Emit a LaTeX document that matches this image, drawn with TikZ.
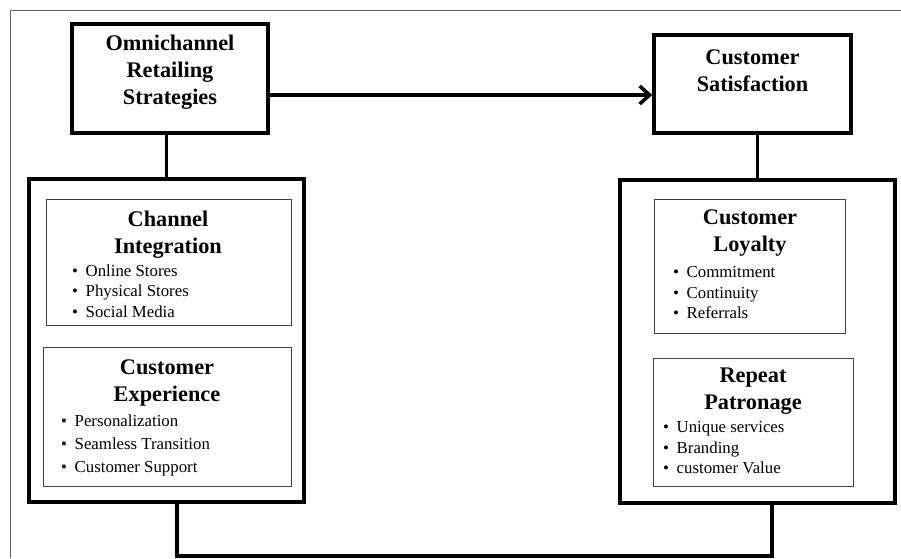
\documentclass[tikz,border=0pt]{standalone}
\usepackage{fontspec}
\setmainfont{Liberation Serif}
\usetikzlibrary{arrows.meta}

\newcommand{\headfont}{\fontsize{22.3}{27}\selectfont\bfseries}
\newcommand{\bitem}[1]{\makebox[13.5pt][l]{\textbullet}#1}

\tikzset{
    mainbox/.style={draw, line width=3.5pt, inner sep=0pt},
    groupbox/.style={draw, line width=4pt, inner sep=0pt},
    itembox/.style={draw=black!75, line width=1pt, inner sep=0pt},
    heading/.style={align=center, font=\headfont, inner sep=0pt},
    itemlist/.style={align=left, anchor=west, inner sep=0pt, font=\fontsize{16.8}{#1}\selectfont},
    itemlist/.default=20.5,
    link/.style={line width=3.5pt},
    frameline/.style={draw=black!60, line width=1pt}
}

\begin{document}
\begin{tikzpicture}[x=1pt,y=-1pt]
        \useasboundingbox (0,0) rectangle (901,558);

        % frame
        \draw[frameline] (10,558) -- (10,10) -- (901,10);

        % top boxes
        \node[mainbox, minimum width=196pt, minimum height=109pt] (omni) at (170,78.5) {};
        \node[heading] (omnitxt) at (170,72.5) {Omnichannel\\Retailing\\Strategies};

        \node[mainbox, minimum width=197pt, minimum height=98pt] (sat) at (752.5,84) {};
        \node[heading] (sattxt) at (752.5,71) {Customer\\Satisfaction};

        % group boxes
        \node[groupbox, minimum width=275pt, minimum height=323pt] (lgrp) at (166.5,340.5) {};
        \node[groupbox, minimum width=275pt, minimum height=323pt] (rgrp) at (757.5,341.5) {};

        % left side
        \node[itembox, minimum width=245pt, minimum height=126pt] (chint) at (168.5,262) {};
        \node[heading] (chinthd) at (168,234.5) {Channel\\Integration};
        \node[itemlist] (chintls) at (72,291) {\bitem{Online Stores}\\\bitem{Physical Stores}\\\bitem{Social Media}};

        \node[itembox, minimum width=248pt, minimum height=139pt] (cexp) at (167,416.5) {};
        \node[heading] (cexphd) at (167,383) {Customer\\Experience};
        \node[itemlist=23] (cexpls) at (61,445) {\bitem{Personalization}\\\bitem{Seamless Transition}\\\bitem{Customer Support}};

        % right side
        \node[itembox, minimum width=191pt, minimum height=134pt] (loyal) at (749.5,266) {};
        \node[heading] (loyalhd) at (750,233.5) {Customer\\Loyalty};
        \node[itemlist] (loyalls) at (673,293) {\bitem{Commitment}\\\bitem{Continuity}\\\bitem{Referrals}};

        \node[itembox, minimum width=200pt, minimum height=128pt] (repeat) at (753,422) {};
        \node[heading] (repeathd) at (753,391.5) {Repeat\\Patronage};
        \node[itemlist] (repeatls) at (663,448) {\bitem{Unique services}\\\bitem{Branding}\\\bitem{customer Value}};

        % connectors
        \coordinate (arr) at (0,95);
        \coordinate (lb) at (177,556);
        \coordinate (rb) at (772,556);

        \draw[link, -{Straight Barb[length=10pt,width=18pt]}] (omni.east |- arr) -- (sat.west |- arr);
        \draw[link] (omni.south -| lgrp.north) -- (lgrp.north);
        \draw[link] (sat.south -| rgrp.north) -- (rgrp.north);
        \draw[link] (lgrp.south -| lb) -- (lb) -- (rb) -- (rgrp.south -| rb);

    \end{tikzpicture}
\end{document}
